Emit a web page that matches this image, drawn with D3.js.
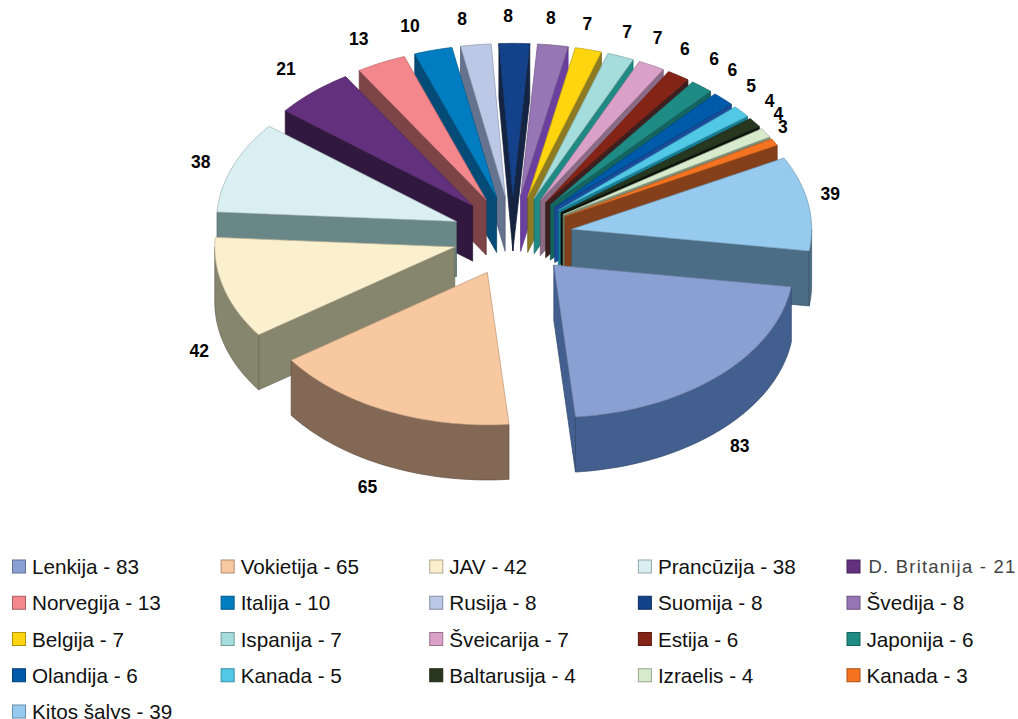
<!DOCTYPE html>
<html>
<head>
<meta charset="utf-8">
<script src="https://cdn.jsdelivr.net/npm/d3@7"></script>
<style>
    body { margin: 0; background: #fff; }
    svg { display: block; }
    text { font-family: "Liberation Sans", Arial, sans-serif; }
</style>
</head>
<body>
<div id="chart"></div>
<script>
var names = ["Lenkija", "Vokietija", "JAV", "Prancūzija", "D. Britanija", "Norvegija", "Italija", "Rusija", "Suomija", "Švedija", "Belgija", "Ispanija", "Šveicarija", "Estija", "Japonija", "Olandija", "Kanada", "Baltarusija", "Izraelis", "Kanada", "Kitos šalys"];
var values = [83, 65, 42, 38, 21, 13, 10, 8, 8, 8, 7, 7, 7, 6, 6, 6, 5, 4, 4, 3, 39];

var topColors = ["#8aa0d2", "#f8c8a0", "#fbf0cd", "#d9eff2", "#63307e", "#f3878c", "#007cc0", "#bcc8e6", "#14428a", "#9676b4", "#ffd510", "#a5dcdc", "#d9a0c8", "#842416", "#1e8c84", "#005aaa", "#50c8e6", "#28371f", "#d7eacc", "#f57321", "#96caee"];
var sideColors = ["#435f8f", "#836955", "#86856e", "#6a8787", "#30183f", "#7c4447", "#054b78", "#65738e", "#162444", "#6b3fa0", "#8d7a22", "#1f8a84", "#8a6a85", "#3e1f1f", "#146560", "#1b4c9c", "#147f96", "#0c120a", "#7d9079", "#84401a", "#4b6e86"];

// hand moved labels, same as in the original sheet
var labelNudge = [[4, -2], [-8, -1], [0, 3], [-8, 7], [-10, -1], [-11, 3], [-16, 4], [-10, 3], [-6, 2], [-5, 2], [-7, 3], [-2, 3], [-5, -1], [-7, -2], [-3, -4], [-8, -8], [-9, -6], [-5, -3], [-8, -2], [-13, 0], [-2, -3]];

var width = 1018,
    height = 719;

var cx = 512.5,
    cy = 236,
    rx = 240,
    tilt = 0.636,
    explodeX = 60,
    explodeY = 40,
    depth = 55,
    startDeg = 8.2;

var svg = d3.select("#chart")
    .append("svg")
    .attr("width", width)
    .attr("height", height);

var pie = d3.pie()
    .sort(null)
    .startAngle((startDeg + 90) * Math.PI / 180)
    .endAngle((startDeg + 450) * Math.PI / 180);

var arcs = pie(values).map(function (d, i) {
    // d3 counts from north, the projection counts from east
    var a0 = d.startAngle - Math.PI / 2,
        a1 = d.endAngle - Math.PI / 2,
        mid = (a0 + a1) / 2;
    return {
        i: i,
        value: d.value,
        a0: a0,
        a1: a1,
        mid: mid,
        ox: cx + explodeX * Math.cos(mid),
        oy: cy + explodeY * Math.sin(mid)
    };
});

function pt(s, a, r, z) {
    return [s.ox + r * rx * Math.cos(a), s.oy + r * rx * tilt * Math.sin(a) + z];
}

var line = d3.line();

function rimPoints(s, from, to, z) {
    var n = Math.max(2, Math.ceil((to - from) / 0.03));
    return d3.range(n + 1).map(function (k) {
        return pt(s, from + (to - from) * k / n, 1, z);
    });
}

function drawFace(g, pts, fill) {
    g.append("path")
        .attr("d", line(pts) + "Z")
        .attr("fill", fill)
        .attr("stroke", d3.color(fill).darker(0.8))
        .attr("stroke-width", 0.7)
        .attr("stroke-linejoin", "round");
}

// back slices first so the front ones cover them
var order = arcs.slice().sort(function (a, b) {
    return Math.sin(a.mid) - Math.sin(b.mid);
});

order.forEach(function (s) {
    var g = svg.append("g").attr("class", "slice");
    var side = sideColors[s.i];

    // radial walls, only the ones that face the viewer
    [[s.a0, s.a0 - Math.PI / 2], [s.a1, s.a1 + Math.PI / 2]].forEach(function (w) {
        if (Math.sin(w[1]) > 0) {
            drawFace(g, [pt(s, w[0], 0, 0), pt(s, w[0], 1, 0), pt(s, w[0], 1, depth), pt(s, w[0], 0, depth)], side);
        }
    });

    // outer wall, front half of the rim only
    [[0, Math.PI], [2 * Math.PI, 3 * Math.PI]].forEach(function (range) {
        var from = Math.max(s.a0, range[0]),
            to = Math.min(s.a1, range[1]);
        if (to > from) {
            drawFace(g, rimPoints(s, from, to, 0).concat(rimPoints(s, from, to, depth).reverse()), side);
        }
    });

    drawFace(g, [pt(s, s.a0, 0, 0)].concat(rimPoints(s, s.a0, s.a1, 0)), topColors[s.i]);
});

svg.selectAll("text.value")
    .data(arcs)
    .enter()
    .append("text")
    .attr("class", "value")
    .attr("x", function (d) { return 512 + 325 * Math.cos(d.mid) + labelNudge[d.i][0]; })
    .attr("y", function (d) {
        var s = Math.sin(d.mid);
        return 234 + 220 * s + (s > 0 ? 54 : 0) + labelNudge[d.i][1];
    })
    .attr("text-anchor", "middle")
    .attr("dominant-baseline", "central")
    .style("font-size", "17.5px")
    .style("font-weight", "bold")
    .text(function (d) { return d.value; });

// legend
var cols = d3.scaleLinear().domain([0, 4]).range([12, 846.5]);
var rows = d3.scaleLinear().domain([0, 4]).range([566.5, 711.5]);

var legend = svg.selectAll("g.legend")
    .data(names)
    .enter()
    .append("g")
    .attr("class", "legend")
    .attr("transform", function (d, i) {
        return "translate(" + cols(i % 5) + "," + rows(Math.floor(i / 5)) + ")";
    });

legend.append("rect")
    .attr("x", 0.5)
    .attr("y", -6.5)
    .attr("width", 13)
    .attr("height", 13)
    .attr("fill", function (d, i) { return topColors[i]; })
    .attr("stroke", function (d, i) { return d3.color(topColors[i]).darker(1); })
    .attr("stroke-width", 1);

legend.append("text")
    .attr("x", function (d) { return d == "D. Britanija" ? 22 : 20; })
    .attr("y", 0)
    .attr("dominant-baseline", "central")
    .attr("fill", function (d) { return d == "D. Britanija" ? "#444" : "#111"; })
    .style("font-size", function (d) { return d == "D. Britanija" ? "18.5px" : "20.7px"; })
    .style("letter-spacing", function (d) { return d == "D. Britanija" ? "1.2px" : "0"; })
    .text(function (d, i) { return d + " - " + values[i]; });
</script>
</body>
</html>
